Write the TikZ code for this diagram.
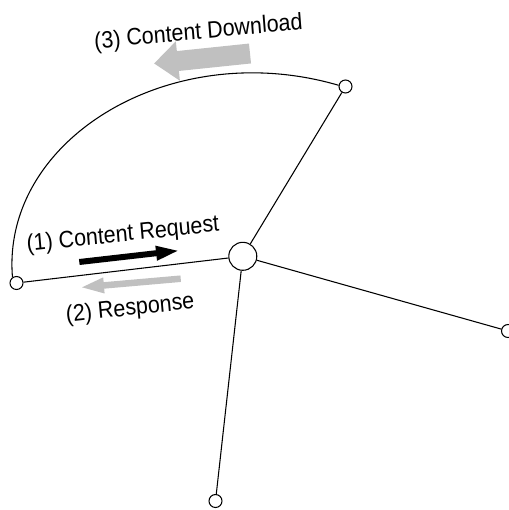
\documentclass[tikz,border=0pt]{standalone}
\usepackage{fontspec}
\setmainfont{Liberation Sans}
\usetikzlibrary{arrows.meta}
\definecolor{lightflow}{RGB}{192,192,192}
\begin{document}
\begin{tikzpicture}[x=0.75pt,y=-0.75pt,
  hub/.style={circle,draw,fill=white,line width=0.8pt,minimum size=21pt,inner sep=0pt},
  leaf/.style={circle,draw,fill=white,line width=0.8pt,minimum size=9.75pt,inner sep=0pt},
  link/.style={line width=0.8pt},
  msgtext/.style={anchor=base,inner sep=0pt,font=\fontsize{16.1pt}{19pt}\selectfont,yscale=1.1,transform shape},
  reqarrow/.style={line width=4.5pt,-{Triangle[width=9.75pt,length=18pt]}},
  resparrow/.style={lightflow,line width=4.9pt,-{Triangle[width=10.5pt,length=18pt]}},
  dlarrow/.style={lightflow,line width=15pt,-{Triangle[width=28.5pt,length=18pt]}}]
\useasboundingbox (0,0) rectangle (509,510);

% flow arrows
\coordinate (reqtail) at (79.3,262);
\coordinate (reqtip) at (180,250.5);
\coordinate (resptail) at (180.7,278.7);
\coordinate (resptip) at (80,287.5);
\coordinate (dltail) at (250,53.5);
\coordinate (dltip) at (154,63.5);
\draw[reqarrow] (reqtail) -- (reqtip);
\draw[resparrow] (resptail) -- (resptip);
\draw[dlarrow] (dltail) -- (dltip);

% nodes
\node[hub] (hub) at (242.8,256.3) {};
\node[leaf] (west) at (16.5,283) {};
\node[leaf] (north) at (345.5,86.5) {};
\node[leaf] (east) at (508,331) {};
\node[leaf] (south) at (215.5,501) {};

% links
\draw[link] (hub) -- (west);
\draw[link] (hub) -- (north);
\draw[link] (hub) -- (east);
\draw[link] (hub) -- (south);
\draw[link] (west.125) .. controls (1.2,139.9) and (170,36) .. (north.170);

% texts
\node[msgtext,rotate=5.5] (reqtxt) at (123.5,241.4) {(1) Content Request};
\node[msgtext,rotate=5.8] (resptxt) at (130.8,315.4) {(2) Response};
\node[msgtext,rotate=5] (dltxt) at (199,39) {(3) Content Download};
\end{tikzpicture}
\end{document}
